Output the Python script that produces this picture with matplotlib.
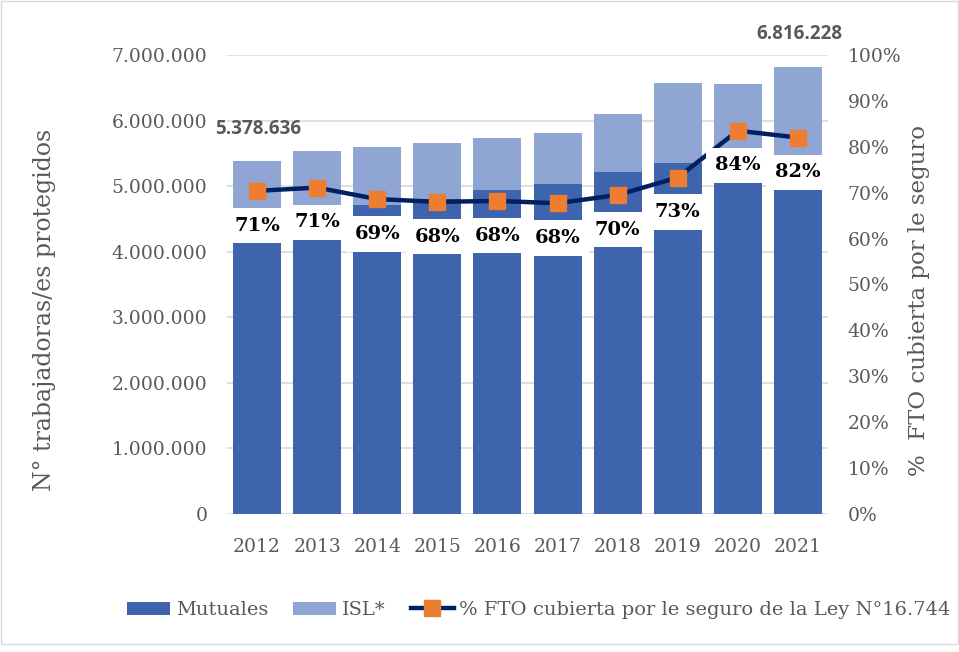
import matplotlib.pyplot as plt
from matplotlib.lines import Line2D
from matplotlib.patches import Patch, Rectangle
from matplotlib.ticker import FuncFormatter, MultipleLocator

years = ['2012', '2013', '2014', '2015', '2016', '2017', '2018', '2019', '2020', '2021']
totals = [5378636, 5535000, 5597000, 5658000, 5734000, 5810000, 6100000, 6570000, 6560000, 6816228]
mutuales = [4560000, 4690000, 4710000, 4810000, 4940000, 5030000, 5220000, 5360000, 5480000, 5450000]
isl = [t - m for t, m in zip(totals, mutuales)]
pct_fto = [0.704, 0.711, 0.686, 0.680, 0.682, 0.677, 0.695, 0.733, 0.835, 0.820]
pct_labels = ['71%', '71%', '69%', '68%', '68%', '68%', '70%', '73%', '84%', '82%']

dark_blue = '#3d64ad'
light_blue = '#8fa5d4'
navy = '#002060'
orange = '#ed7d31'
gray = '#595959'
serif = 'DejaVu Serif'

fig = plt.figure(figsize=(9.59, 6.52), dpi=100)
ax = fig.add_axes([0.2367, 0.2117, 0.6267, 0.704])
ax2 = ax.twinx()

x = list(range(len(years)))
ax.bar(x, mutuales, width=0.8, color=dark_blue, zorder=2)
ax.bar(x, isl, width=0.8, bottom=mutuales, color=light_blue, zorder=2)

ax.set_xlim(-0.5, 9.5)
ax.set_ylim(0, 7000000)
ax.yaxis.set_major_locator(MultipleLocator(1000000))
ax.yaxis.set_major_formatter(FuncFormatter(lambda v, p: f"{v:,.0f}".replace(',', '.')))
ax.grid(axis='y', color='#d9d9d9', linewidth=1.2, zorder=0)
ax.set_axisbelow(True)
ax.set_xticks(x)
ax.set_xticklabels(years)

# Total labels for first and last year
ax.annotate('5.378.636', xy=(0, totals[0]), xytext=(1, 23), textcoords='offset points',
            ha='center', va='center', fontsize=13.5, fontweight='bold', color=gray,
            family='Open Sans', annotation_clip=False)
ax.annotate('6.816.228', xy=(9, totals[-1]), xytext=(1, 24), textcoords='offset points',
            ha='center', va='center', fontsize=13.5, fontweight='bold', color=gray,
            family='Open Sans', annotation_clip=False)

ax2.plot(x, pct_fto, color=navy, linewidth=3.2, marker='s', markersize=11,
         markerfacecolor=orange, markeredgecolor=orange, zorder=3)
ax2.set_ylim(0, 1)
ax2.yaxis.set_major_locator(MultipleLocator(0.1))
ax2.yaxis.set_major_formatter(FuncFormatter(lambda v, p: f"{v * 100:.0f}%"))

for i, (v, lab) in enumerate(zip(pct_fto, pct_labels)):
    ax2.annotate(lab, xy=(i, v), xytext=(0, -25), textcoords='offset points',
                 ha='center', va='center', fontsize=14, fontweight='bold',
                 family=serif, color='black', zorder=5,
                 bbox=dict(boxstyle='square,pad=0.45', facecolor='white', edgecolor='none'))

for a in (ax, ax2):
    for s in a.spines.values():
        s.set_visible(False)
    a.tick_params(axis='y', length=0, labelsize=13.5, labelcolor=gray, pad=14)
    a.tick_params(axis='x', length=0, labelsize=13.5, labelcolor=gray, pad=17)
    for t in a.get_xticklabels() + a.get_yticklabels():
        t.set_family(serif)

ax.set_ylabel('N° trabajadoras/es protegidos', fontsize=17, color=gray, family=serif)
ax.yaxis.set_label_coords(-0.285, 0.444)
ax2.set_ylabel('%  FTO cubierta por le seguro', fontsize=16.5, color=gray, family=serif)
ax2.yaxis.set_label_coords(1.133, 0.466)

handles = [Patch(facecolor=dark_blue), Patch(facecolor=light_blue),
           Line2D([0], [0], color=navy, linewidth=3.2, marker='s', markersize=11,
                  markerfacecolor=orange, markeredgecolor=orange)]
fig.legend(handles, ['Mutuales', 'ISL*', '% FTO cubierta por le seguro de la Ley N°16.744'],
           loc='center', bbox_to_anchor=(0.562, 0.064), ncol=3, frameon=False,
           prop={'family': serif, 'size': 14}, labelcolor=gray, handlelength=2.2,
           columnspacing=1.3, handletextpad=0.3)

fig.patches.append(Rectangle((0.001, 0.012), 0.998, 0.987, transform=fig.transFigure,
                             fill=False, edgecolor='#d9d9d9', linewidth=1))

fig.savefig('out.png', dpi=100)
